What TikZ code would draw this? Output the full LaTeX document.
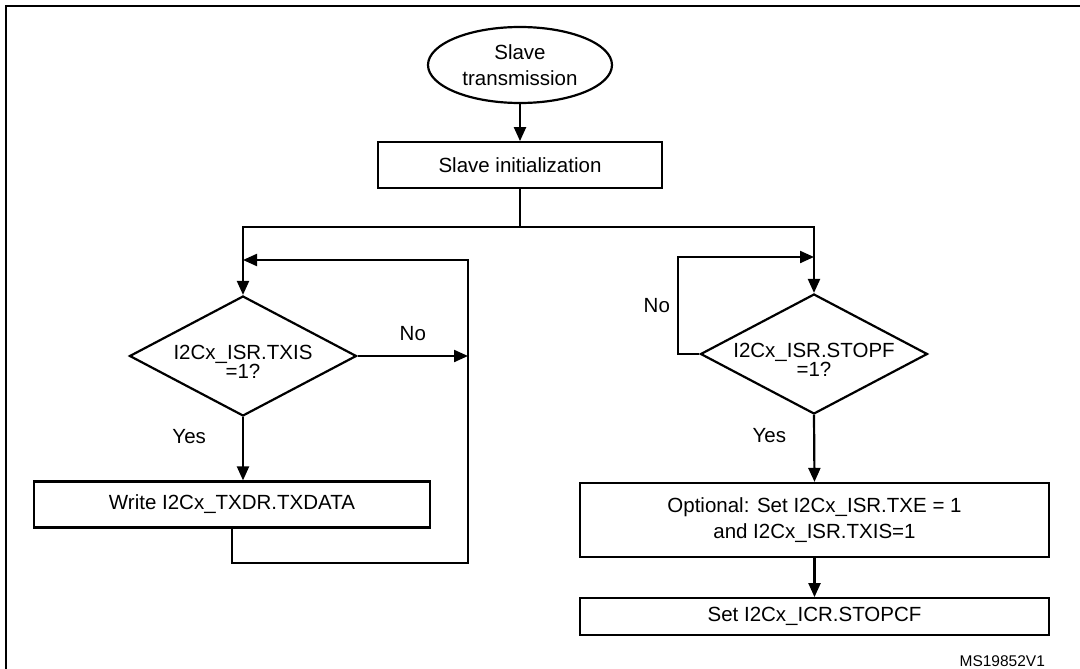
\documentclass[tikz,border=0pt]{standalone}
\usepackage{fontspec}
\setmainfont{Liberation Sans}
\usetikzlibrary{arrows.meta,positioning,shapes.geometric}

\begin{document}
\begin{tikzpicture}[x=1pt,y=-1pt,line width=2.2pt,>={Triangle[length=14pt,width=12pt]},node distance=37pt,font=\fontsize{20.5}{26}\selectfont]
\tikzstyle{terminal}=[draw,ellipse,align=center,minimum width=184pt,minimum height=76pt,inner sep=0pt,font=\fontsize{20.5}{25.5}\selectfont]
\tikzstyle{procbox}=[draw,rectangle,align=center,inner sep=0pt,minimum height=46pt]
\tikzstyle{decision}=[draw,diamond,aspect=1.89,inner sep=0pt,minimum width=227pt,minimum height=120pt]
\tikzstyle{dectext}=[align=center,inner sep=0pt,yshift=-6pt,font=\fontsize{20.5}{19.5}\selectfont]
\tikzstyle{flowlabel}=[inner sep=0pt]
\useasboundingbox (0,0) rectangle (1080,669);
\draw[line width=2.6pt] (6,669) -- (6,6) -- (1080,6);
% start and init
\node[terminal] (start) at (520,65) {Slave\\transmission};
\node[procbox,minimum width=284pt,below=of start] (init) {Slave initialization};
\coordinate[below=38pt of init.south] (split);
% the two branches
\node[decision] (txis) at (243,356) {};
\node[dectext] (txistext) at (txis.center) {I2Cx\_ISR.TXIS\\=1?};
\node[decision] (stopf) at (814,354) {};
\node[dectext] (stopftext) at (stopf.center) {I2Cx\_ISR.STOPF\\=1?};
\node[procbox,minimum width=396pt] (wdata) at (232,504.5) {Write I2Cx\_TXDR.TXDATA};
\node[procbox,minimum width=469pt,minimum height=74pt] (opt) at (814.5,520) {Optional: Set I2Cx\_ISR.TXE = 1\\and I2Cx\_ISR.TXIS=1};
\node[procbox,minimum width=469pt,minimum height=37pt,below=39pt of opt] (stopcf) {Set I2Cx\_ICR.STOPCF};
\coordinate (txret) at (468,260);
\coordinate (txlow) at (468,563);
\coordinate (stopl) at (678,257);
\node[anchor=east,inner sep=0pt,font=\fontsize{15.5}{18}\selectfont] (msid) at (1046,661) {MS19852V1};
% connectors
\draw[->] (start) -- (init);
\draw (init) -- (split);
\draw[->] (split) -| (txis.north);
\draw[->] (split) -| (stopf.north);
\draw[->] (txis.east) -- node[flowlabel,above=14pt]{No} (txis.east -| txret);
\draw[->] (txis.south) -- node[flowlabel,pos=0.3,left=36pt]{Yes} (txis.south |- wdata.north);
\draw[->] (wdata.south) |- (txlow) -- (txret) -- (txret -| txis.north);
\draw[->] (stopf.west) -- (stopl |- stopf.west) -- node[flowlabel,left=7pt]{No} (stopl) -- (stopl -| stopf.north);
\draw[->] (stopf.south) -- node[flowlabel,pos=0.3,left=27pt]{Yes} (opt.north);
\draw[->] (opt) -- (stopcf);
\end{tikzpicture}
\end{document}
